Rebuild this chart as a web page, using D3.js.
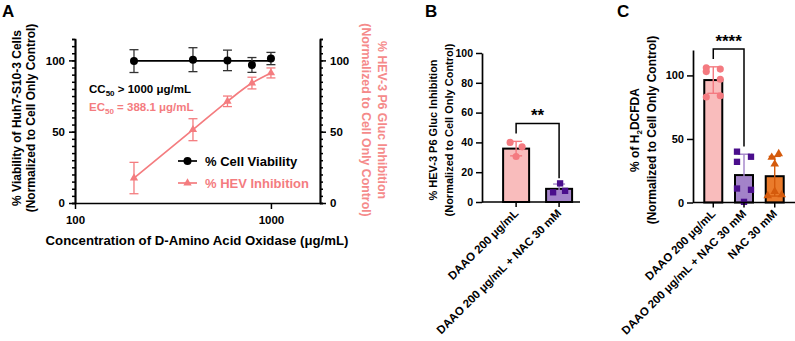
<!DOCTYPE html>
<html>
<head>
<meta charset="utf-8">
<script src="https://cdn.jsdelivr.net/npm/d3@7"></script>
<style>
  body { margin: 0; background: #fff; }
  svg { font-family: "Liberation Sans", Arial, sans-serif; font-weight: bold; }
  svg text { font-weight: bold; }
</style>
</head>
<body>
<script>
// ---- Panel A data ----
const concentrations = [200, 400, 600, 800, 1000];
const viabilityMean = [99.5, 100.5, 100, 96.8, 101.3];
const viabilitySD = [8, 8.4, 7.2, 5.2, 4.3];
const hevMean = [17.5, 51.4, 71.3, 84.1, 91.2];
const hevSD = [11, 7.7, 3.7, 4.1, 3.5];
const viabilityFit = [99.7, 99.7];   // flat fit, 200 -> 1000
const xTicksA = [100, 1000];
const yTicksA = [0, 50, 100];

// ---- Panel B data ----
const groupsB = ['DAAO 200 μg/mL', 'DAAO 200 μg/mL + NAC 30 mM'];
const pointsB = [[40, 37, 30.5], [12.5, 6.5, 7.5]];
const yTicksB = [0, 20, 40, 60, 80, 100];

// ---- Panel C data ----
const groupsC = ['DAAO 200 μg/mL', 'DAAO 200 μg/mL + NAC 30 mM', 'NAC 30 mM'];
const pointsC = [
  [106, 105, 103, 97, 83, 84],
  [40, 36, 32, 11, 10, 0.5],
  [35.5, 38.4, 30.2, 5.3, 6, 8.7]
];
const yTicksC = [0, 50, 100];

const pink = '#f47c7f';
const pinkLabel = '#f58a8a';
const black = '#000';

const svg = d3.select('body').append('svg')
  .attr('width', 795).attr('height', 341);

function styleAxis(g, size) {
  g.select('.domain').attr('stroke', black).attr('stroke-width', 1.7);
  g.selectAll('.tick line').attr('stroke', black).attr('stroke-width', 1.5);
  g.selectAll('.tick text')
    .attr('fill', black)
    .style('font-size', size + 'px')
    .style('font-weight', 'bold')
    .style('font-family', '"Liberation Sans", Arial, sans-serif');
}

// panel letters
svg.append('text').attr('x', 2).attr('y', 17).style('font-size', '17px').text('A');
svg.append('text').attr('x', 425).attr('y', 17).style('font-size', '17px').text('B');
svg.append('text').attr('x', 617).attr('y', 17).style('font-size', '17px').text('C');

// ================= Panel A =================
const xA = d3.scaleLog().domain([100, 1780]).range([75, 320]);
const yA = d3.scaleLinear().domain([0, 115]).range([203, 39]);

// minor ticks
svg.append('g').attr('transform', 'translate(75,0)')
  .call(d3.axisLeft(yA).tickValues(d3.range(0, 116, 5)).tickSize(3).tickFormat(''))
  .call(g => styleAxis(g, 11));
svg.append('g').attr('transform', 'translate(320,0)')
  .call(d3.axisRight(yA).tickValues(d3.range(0, 116, 5)).tickSize(3).tickFormat(''))
  .call(g => styleAxis(g, 11));
// major ticks
svg.append('g').attr('transform', 'translate(75,0)')
  .call(d3.axisLeft(yA).tickValues(yTicksA).tickSize(6).tickSizeOuter(0).tickPadding(4))
  .call(g => styleAxis(g, 11.5));
svg.append('g').attr('transform', 'translate(320,0)')
  .call(d3.axisRight(yA).tickValues(yTicksA).tickSize(6).tickSizeOuter(0).tickPadding(4))
  .call(g => styleAxis(g, 11.5));
svg.append('g').attr('transform', 'translate(0,203)')
  .call(d3.axisBottom(xA).tickValues(xTicksA).tickFormat(d3.format('d')).tickSize(6).tickSizeOuter(0).tickPadding(7))
  .call(g => styleAxis(g, 11.5));

const gA = svg.append('g');
// HEV inhibition
const hevLine = d3.line().x((d, i) => xA(concentrations[i])).y(d => yA(d)).curve(d3.curveMonotoneX);
gA.append('path').attr('d', hevLine(hevMean)).attr('fill', 'none').attr('stroke', pink).attr('stroke-width', 1.7);
concentrations.forEach((c, i) => {
  const x = xA(c);
  gA.append('line').attr('x1', x).attr('x2', x)
    .attr('y1', yA(hevMean[i] - hevSD[i])).attr('y2', yA(hevMean[i] + hevSD[i]))
    .attr('stroke', pink).attr('stroke-width', 1.3);
  [hevMean[i] - hevSD[i], hevMean[i] + hevSD[i]].forEach(v => gA.append('line')
    .attr('x1', x - 4.5).attr('x2', x + 4.5).attr('y1', yA(v)).attr('y2', yA(v))
    .attr('stroke', pink).attr('stroke-width', 1.3));
});
const tri = d3.symbol().type(d3.symbolTriangle).size(30);
gA.selectAll('.tri').data(hevMean).join('path')
  .attr('transform', (d, i) => `translate(${xA(concentrations[i])},${yA(d)})`)
  .attr('d', tri).attr('fill', pink);

// viability
gA.append('line')
  .attr('x1', xA(concentrations[0])).attr('x2', xA(concentrations[concentrations.length - 1]))
  .attr('y1', yA(viabilityFit[0])).attr('y2', yA(viabilityFit[1]))
  .attr('stroke', black).attr('stroke-width', 1.7);
concentrations.forEach((c, i) => {
  const x = xA(c);
  gA.append('line').attr('x1', x).attr('x2', x)
    .attr('y1', yA(viabilityMean[i] - viabilitySD[i])).attr('y2', yA(viabilityMean[i] + viabilitySD[i]))
    .attr('stroke', '#333').attr('stroke-width', 1.3);
  [viabilityMean[i] - viabilitySD[i], viabilityMean[i] + viabilitySD[i]].forEach(v => gA.append('line')
    .attr('x1', x - 4.5).attr('x2', x + 4.5).attr('y1', yA(v)).attr('y2', yA(v))
    .attr('stroke', '#333').attr('stroke-width', 1.3));
});
gA.selectAll('.dot').data(viabilityMean).join('circle')
  .attr('cx', (d, i) => xA(concentrations[i])).attr('cy', d => yA(d))
  .attr('r', 4).attr('fill', black);

// annotations
const cc = svg.append('text').attr('x', 89).attr('y', 93).style('font-size', '11.5px').attr('fill', black);
cc.append('tspan').text('CC');
cc.append('tspan').attr('dy', 3).style('font-size', '8px').text('50');
cc.append('tspan').attr('dy', -3).text(' > 1000 μg/mL');
const ec = svg.append('text').attr('x', 89).attr('y', 111).style('font-size', '11.5px').attr('fill', pink);
ec.append('tspan').text('EC');
ec.append('tspan').attr('dy', 3).style('font-size', '8px').text('50');
ec.append('tspan').attr('dy', -3).text(' =  388.1 μg/mL');

// legend
const leg = svg.append('g');
leg.append('line').attr('x1', 178).attr('x2', 197).attr('y1', 161).attr('y2', 161).attr('stroke', black).attr('stroke-width', 1.7);
leg.append('circle').attr('cx', 187.5).attr('cy', 161).attr('r', 4).attr('fill', black);
leg.append('text').attr('x', 205).attr('y', 165.5).style('font-size', '13px').text('% Cell Viability');
leg.append('line').attr('x1', 178).attr('x2', 197).attr('y1', 183).attr('y2', 183).attr('stroke', pink).attr('stroke-width', 1.7);
leg.append('path').attr('transform', 'translate(187.5,183)').attr('d', tri).attr('fill', pink);
leg.append('text').attr('x', 205).attr('y', 187.5).style('font-size', '13px').attr('fill', pink).text('% HEV Inhibition');

// axis titles A
svg.append('text').attr('x', 197).attr('y', 245).attr('text-anchor', 'middle').style('font-size', '13.2px')
  .text('Concentration of D-Amino Acid Oxidase (μg/mL)');
const ylA = svg.append('text').attr('transform', 'translate(0,118) rotate(-90)').attr('text-anchor', 'middle').style('font-size', '12px');
ylA.append('tspan').attr('x', 0).attr('y', 21).text('% Viability of Huh7-S10-3 Cells');
ylA.append('tspan').attr('x', 0).attr('y', 35).text('(Normalized to Cell Only Control)');
const yrA = svg.append('text').attr('transform', 'translate(0,120) rotate(90)').attr('text-anchor', 'middle')
  .style('font-size', '12.3px').attr('fill', pinkLabel);
yrA.append('tspan').attr('x', 0).attr('y', -378).text('% HEV-3 P6 Gluc Inhibition');
yrA.append('tspan').attr('x', 0).attr('y', -362).text('(Normalized to Cell Only Control)');

// ================= Bar panels =================
const barStyles = [
  { fill: '#f9bcbc', point: '#f47a80', err: '#f47a80', shape: d3.symbolCircle },
  { fill: '#a383c9', point: '#4a0e8c', err: '#a383c9', shape: d3.symbolSquare },
  { fill: '#ea7b2b', point: '#d45a0c', err: '#d45a0c', shape: d3.symbolTriangle }
];

function barPanel(opts) {
  const { groups, points, y, x, bw, jitter, ticks, axisX, axisRight, fontSize } = opts;
  const g = svg.append('g');
  const means = points.map(p => d3.mean(p));
  const sds = points.map(p => d3.deviation(p));

  g.selectAll('.bar').data(means).join('rect')
    .attr('x', (d, i) => x(groups[i]) - bw / 2).attr('width', bw)
    .attr('y', d => y(d)).attr('height', d => y(0) - y(d))
    .attr('fill', (d, i) => barStyles[i].fill)
    .attr('stroke', black).attr('stroke-width', 2);

  means.forEach((m, i) => {
    const cx = x(groups[i]);
    const st = barStyles[i];
    g.append('line').attr('x1', cx).attr('x2', cx).attr('y1', y(m - sds[i])).attr('y2', y(m + sds[i]))
      .attr('stroke', st.err).attr('stroke-width', 1.4);
    [m - sds[i], m + sds[i]].forEach(v => g.append('line')
      .attr('x1', cx - 6).attr('x2', cx + 6).attr('y1', y(v)).attr('y2', y(v))
      .attr('stroke', st.err).attr('stroke-width', 1.4));
    const sym = d3.symbol().type(st.shape).size(st.shape === d3.symbolTriangle ? 32 : 40);
    g.selectAll('.pt' + i).data(points[i]).join('path')
      .attr('transform', (d, j) => `translate(${cx + jitter[i][j]},${y(d)})`)
      .attr('d', sym).attr('fill', st.point);
  });

  // axes
  g.append('g').attr('transform', `translate(${axisX},0)`)
    .call(d3.axisLeft(y).tickValues(ticks).tickSize(6).tickSizeOuter(0).tickPadding(3))
    .call(a => styleAxis(a, fontSize));
  g.append('line').attr('x1', axisX).attr('x2', axisRight).attr('y1', y(0)).attr('y2', y(0))
    .attr('stroke', black).attr('stroke-width', 1.7);
  groups.forEach((grp, i) => {
    g.append('line').attr('x1', x(grp)).attr('x2', x(grp)).attr('y1', y(0)).attr('y2', y(0) + 5)
      .attr('stroke', black).attr('stroke-width', 1.5);
    g.append('text').attr('transform', `translate(${x(grp) + 3},${y(0) + 12}) rotate(-45)`)
      .attr('text-anchor', 'end').style('font-size', '11.5px').text(grp);
  });
  return { means, sds, g };
}

// Panel B
const yB = d3.scaleLinear().domain([0, 100]).range([202, 53]);
const xB = d3.scalePoint().domain(groupsB).range([482, 580]).padding(0.64).align(0.62);
barPanel({
  groups: groupsB, points: pointsB, y: yB, x: xB, bw: 26,
  jitter: [[-6, 6, 0], [1, -6, 6]], ticks: yTicksB, axisX: 482, axisRight: 580, fontSize: 10.5
});
// significance B
const sigB = svg.append('g');
sigB.append('path')
  .attr('d', `M${xB(groupsB[0])},${yB(46)}V${yB(52.7)}H${xB(groupsB[1])}V${yB(16)}`)
  .attr('fill', 'none').attr('stroke', black).attr('stroke-width', 1.5);
sigB.append('text').attr('x', (xB(groupsB[0]) + xB(groupsB[1])) / 2).attr('y', yB(52.7) - 2)
  .attr('text-anchor', 'middle').style('font-size', '17px').text('**');
const ylB = svg.append('text').attr('transform', 'translate(0,130) rotate(-90)').attr('text-anchor', 'middle').style('font-size', '11px');
ylB.append('tspan').attr('x', 0).attr('y', 437).text('% HEV-3 P6 Gluc Inhibition');
ylB.append('tspan').attr('x', 0).attr('y', 453).text('(Normalized to Cell Only Control)');

// Panel C
const yC = d3.scaleLinear().domain([0, 120]).range([202.5, 50]);
const xC = d3.scalePoint().domain(groupsC).range([693, 795]).padding(0.66);
barPanel({
  groups: groupsC, points: pointsC, y: yC, x: xC, bw: 18,
  jitter: [[-7, 7, -7, 7, -7, 7], [-7, 7, -7, -7, 7, 0], [-3, 4, 0, -7, 7, 0]],
  ticks: yTicksC, axisX: 693, axisRight: 795, fontSize: 11
});
const sigC = svg.append('g');
sigC.append('path')
  .attr('d', `M${xC(groupsC[0])},${yC(113)}V${yC(120.8)}H${xC(groupsC[1])}V${yC(44)}`)
  .attr('fill', 'none').attr('stroke', black).attr('stroke-width', 1.5);
sigC.append('text').attr('x', (xC(groupsC[0]) + xC(groupsC[1])) / 2).attr('y', yC(120.8) - 2)
  .attr('text-anchor', 'middle').style('font-size', '17px').text('****');
const ylC = svg.append('text').attr('transform', 'translate(0,130) rotate(-90)').attr('text-anchor', 'middle').style('font-size', '12px');
const l1 = ylC.append('tspan').attr('x', 0).attr('y', 639);
l1.append('tspan').text('% of H');
l1.append('tspan').attr('dy', 3).style('font-size', '8px').text('2');
l1.append('tspan').attr('dy', -3).text('DCFDA');
ylC.append('tspan').attr('x', 0).attr('y', 656).text('(Normalized to Cell Only Control)');
</script>
</body>
</html>
